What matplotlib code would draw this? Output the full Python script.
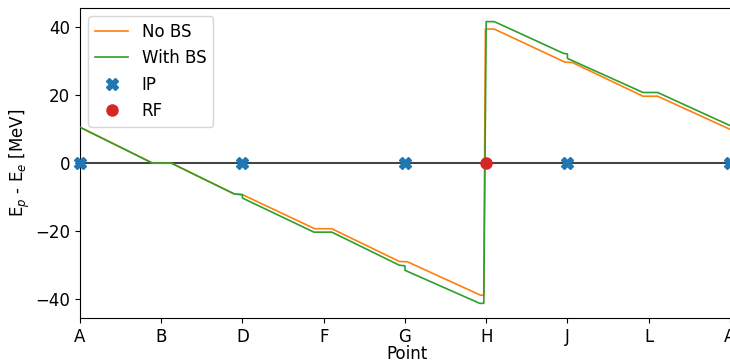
import matplotlib
matplotlib.use("Agg")
import matplotlib.pyplot as plt

# Tick labels along the path
point_labels = ["A", "B", "D", "F", "G", "H", "J", "L", "A"]
point_pos = [0, 1, 2, 3, 4, 5, 6, 7, 8]

# No BS curve breakpoints (x in point units, y in MeV)
nobs_x = [0.00, 0.89, 1.12, 1.90, 2.00, 2.89, 3.10, 3.93, 4.03, 4.93, 4.97, 4.99, 5.10, 5.97, 6.06, 6.93, 7.11, 8.00]
nobs_y = [10.5, 0.0, 0.0, -9.1, -9.3, -19.3, -19.3, -28.9, -29.0, -38.8, -38.8, 39.3, 39.3, 29.6, 29.5, 19.6, 19.6, 9.9]

# With BS curve breakpoints
bs_x = [0.00, 0.89, 1.12, 1.90, 2.00, 2.00, 2.88, 3.10, 3.93, 4.00, 4.00, 4.92, 4.97, 5.00, 5.10, 5.95, 6.00, 6.00, 6.93, 7.11, 8.00]
bs_y = [10.5, 0.0, 0.0, -9.1, -9.3, -10.3, -20.3, -20.3, -30.0, -30.2, -31.5, -41.2, -41.2, 41.5, 41.5, 32.2, 32.0, 30.7, 20.7, 20.7, 11.0]

# Interaction points and RF
ip_x = [0, 2, 4, 6, 8]
ip_y = [0, 0, 0, 0, 0]
rf_x = [5]
rf_y = [0]

fig = plt.figure(figsize=(7.30, 3.62), dpi=100)
ax = fig.add_axes([80/730, 44/362, 654/730, 310/362])

ax.axhline(0, color="#444444", lw=1.5, zorder=1)
ax.plot(nobs_x, nobs_y, color="tab:orange", lw=1.2, label="No BS", zorder=2)
ax.plot(bs_x, bs_y, color="tab:green", lw=1.2, label="With BS", zorder=3)
ax.plot(ip_x, ip_y, "X", color="tab:blue", ms=8, ls="none", label="IP", zorder=4, clip_on=False)
ax.plot(rf_x, rf_y, "o", color="tab:red", ms=8, ls="none", label="RF", zorder=5)

ax.set_xlim(0, 8.05)
ax.set_ylim(-45.5, 45.5)
ax.set_xticks(point_pos)
ax.set_xticklabels(point_labels)
ax.set_yticks([-40, -20, 0, 20, 40])
ax.tick_params(labelsize=12)
ax.set_xlabel("Point", fontsize=12, labelpad=-0.5)
ax.set_ylabel("E$_p$ - E$_e$ [MeV]", fontsize=12, labelpad=2)
ax.legend(loc="upper left", fontsize=12)

fig.savefig("out.png", dpi=100)
